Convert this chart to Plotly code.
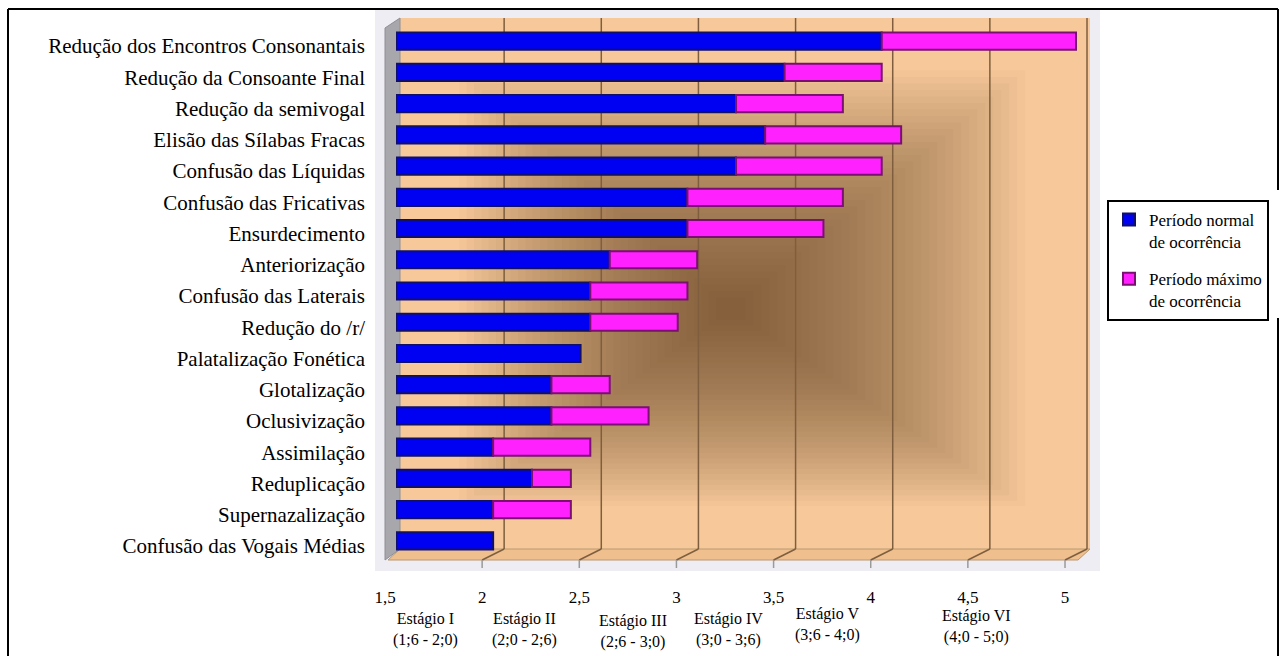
import plotly.graph_objects as go

# ---------------- data ----------------
categories = [
    "Redução dos Encontros Consonantais",
    "Redução da Consoante Final",
    "Redução da semivogal",
    "Elisão das Sílabas Fracas",
    "Confusão das Líquidas",
    "Confusão das Fricativas",
    "Ensurdecimento",
    "Anteriorização",
    "Confusão das Laterais",
    "Redução do /r/",
    "Palatalização Fonética",
    "Glotalização",
    "Oclusivização",
    "Assimilação",
    "Reduplicação",
    "Supernazalização",
    "Confusão das Vogais Médias",
]
axis_start = 1.5
normal_end = [4.0, 3.5, 3.25, 3.4, 3.25, 3.0, 3.0, 2.6, 2.5, 2.5, 2.45, 2.3, 2.3, 2.0, 2.2, 2.0, 2.0]
maximum_end = [5.0, 4.0, 3.8, 4.1, 4.0, 3.8, 3.7, 3.05, 3.0, 2.95, None, 2.6, 2.8, 2.5, 2.4, 2.4, None]

tick_vals = [1.5, 2, 2.5, 3, 3.5, 4, 4.5, 5]
tick_text = ["1,5", "2", "2,5", "3", "3,5", "4", "4,5", "5"]

stage_names = ["Estágio I", "Estágio II", "Estágio III", "Estágio IV", "Estágio V", "Estágio VI"]
stage_ranges = ["(1;6 - 2;0)", "(2;0 - 2;6)", "(2;6 - 3;0)", "(3;0 - 3;6)", "(3;6 - 4;0)", "(4;0 - 5;0)"]
stage_x = [1.65, 2.16, 2.72, 3.21, 3.72, 4.49]

series_names = ["Período normal<br>de ocorrência", "Período máximo<br>de ocorrência"]

# ---------------- helpers (page pixel -> paper) ----------------
W, H = 1280, 656
def px(x):
    return x / W
def py(y):
    return 1 - y / H

SERIF = "Liberation Serif, Times New Roman, serif"

fig = go.Figure()

blue_len = [n - axis_start for n in normal_end]
fig.add_trace(go.Bar(
    y=categories, x=blue_len, base=[axis_start] * len(categories), orientation="h",
    name=series_names[0], width=0.55, legendgroup="a",
    marker=dict(color="#0000F2", line=dict(color="#10106A", width=2)),
))
pink_len = [(m - n) if m is not None else None for m, n in zip(maximum_end, normal_end)]
fig.add_trace(go.Bar(
    y=categories, x=pink_len, base=normal_end, orientation="h",
    name=series_names[1], width=0.55, legendgroup="b",
    marker=dict(color="#FF22FF", line=dict(color="#7A1070", width=2)),
))

shapes = []
# outer frame
shapes.append(dict(type="line", xref="paper", yref="paper", x0=px(8), x1=px(8), y0=py(9), y1=py(656), line=dict(color="black", width=2)))
shapes.append(dict(type="line", xref="paper", yref="paper", x0=px(8), x1=px(1278), y0=py(9), y1=py(9), line=dict(color="black", width=2)))
shapes.append(dict(type="line", xref="paper", yref="paper", x0=px(1278), x1=px(1278), y0=py(9), y1=py(190), line=dict(color="black", width=2)))
shapes.append(dict(type="line", xref="paper", yref="paper", x0=px(1278), x1=px(1278), y0=py(318), y1=py(656), line=dict(color="black", width=2)))

# picture background
shapes.append(dict(type="rect", xref="paper", yref="paper", x0=px(375), x1=px(1100), y0=py(10), y1=py(571),
                   fillcolor="#EEEDF4", line=dict(width=0), layer="below"))
# back wall
shapes.append(dict(type="rect", xref="paper", yref="paper", x0=px(400), x1=px(1090), y0=py(18), y1=py(549),
                   fillcolor="#F7C99A", line=dict(width=0), layer="below"))
# centre gradient (layered rectangles)
cx, cy = 730, 310
L, R, T, B = cx - 400, 1090 - cx, cy - 18, 549 - cy
N = 36
for i in range(N):
    s = 0.8 * (1 - i / N) + 0.02
    shapes.append(dict(type="rect", xref="paper", yref="paper",
                       x0=px(cx - L * s), x1=px(cx + R * s), y0=py(cy - T * s), y1=py(cy + B * s),
                       fillcolor="rgba(105,75,45,0.032)", line=dict(width=0), layer="below"))
# floor
shapes.append(dict(type="path", xref="paper", yref="paper",
                   path=f"M {px(400)},{py(549)} L {px(1090)},{py(549)} L {px(1078)},{py(560)} L {px(388)},{py(560)} Z",
                   fillcolor="#EFC08E", line=dict(color="#B89870", width=1), layer="below"))
# left wall
shapes.append(dict(type="path", xref="paper", yref="paper",
                   path=f"M {px(385)},{py(28)} L {px(400)},{py(18)} L {px(400)},{py(549)} L {px(385)},{py(560)} Z",
                   fillcolor="#A7A7AC", line=dict(color="#8E8E94", width=1), layer="below"))
# gridlines on the back wall + floor diagonals + front ticks
for v in tick_vals[1:]:
    shapes.append(dict(type="line", xref="x", xsizemode="pixel", xanchor=v, x0=11, x1=11,
                       yref="paper", y0=py(18), y1=py(549), line=dict(color="#7E5E3E", width=1.5), layer="below"))
    shapes.append(dict(type="line", xref="x", xsizemode="pixel", xanchor=v, x0=11, x1=-11,
                       yref="paper", y0=py(549), y1=py(560), line=dict(color="#7E5E3E", width=1.5), layer="below"))
    shapes.append(dict(type="line", xref="x", xsizemode="pixel", xanchor=v, x0=-11, x1=-11,
                       yref="paper", y0=py(560), y1=py(568), line=dict(color="#9A9A9A", width=1.5), layer="below"))

annotations = []
stage_y = [629, 629, 631, 629, 624, 626]
for name, rng, x, yy in zip(stage_names, stage_ranges, stage_x, stage_y):
    annotations.append(dict(xref="x", yref="paper", x=x, y=py(yy), text=f"{name}<br>{rng}",
                            showarrow=False, xanchor="center", yanchor="middle",
                            font=dict(family=SERIF, size=16, color="black")))

fig.update_layout(
    width=W, height=H, margin=dict(l=0, r=0, t=0, b=0, autoexpand=False),
    paper_bgcolor="white", plot_bgcolor="rgba(0,0,0,0)",
    barmode="overlay", separators=", ",
    shapes=shapes, annotations=annotations,
    xaxis=dict(domain=[px(396), px(1090)], range=[axis_start, 5.072], showgrid=False, zeroline=False,
               tickvals=tick_vals, ticktext=tick_text, ticks="", showline=False, automargin=False,
               ticklabelshift=-11, ticklabelstandoff=28,
               tickfont=dict(family=SERIF, size=17, color="black")),
    yaxis=dict(domain=[py(556.5), py(25.5)], autorange="reversed", showgrid=False, zeroline=False,
               showline=False, ticks="", ticklabelstandoff=30, ticklabelshift=-5, automargin=False,
               tickfont=dict(family=SERIF, size=21, color="black")),
    legend=dict(x=px(1107), y=py(200), xanchor="left", yanchor="top",
                bordercolor="black", borderwidth=2, bgcolor="white", valign="top",
                tracegroupgap=12, font=dict(family=SERIF, size=17, color="black")),
    showlegend=True,
)

fig.write_html("out.html")
